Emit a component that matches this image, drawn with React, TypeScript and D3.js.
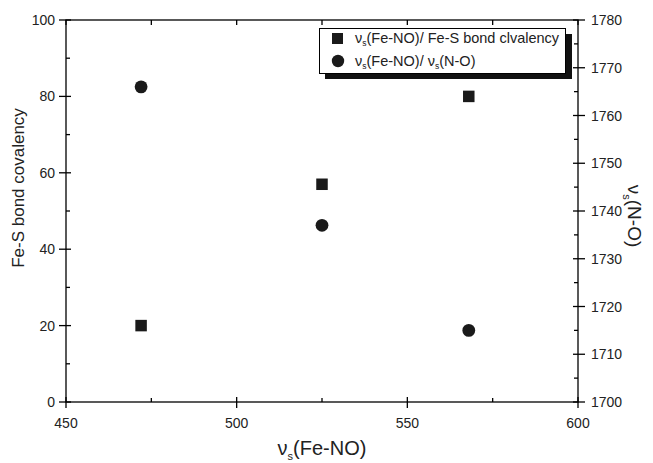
import React from "react";
import * as d3 from "d3";

const feNO = [472, 525, 568];
const covalency = [20, 57, 80];
const nuNO = [1766, 1737, 1715];
const xTicks = [450, 500, 550, 600];
const xMinor = [475, 525, 575];
const yLeftTicks = [0, 20, 40, 60, 80, 100];
const yLeftMinor = [10, 30, 50, 70, 90];
const yRightTicks = [1700, 1710, 1720, 1730, 1740, 1750, 1760, 1770, 1780];
const yRightMinor = [1705, 1715, 1725, 1735, 1745, 1755, 1765, 1775];

const W = 653, H = 463;
const L = 66, R = 578, T = 20, B = 402;
const font = "Liberation Sans, Arial, sans-serif";

export default function App() {
  const x = d3.scaleLinear().domain([450, 600]).range([L, R]);
  const yl = d3.scaleLinear().domain([0, 100]).range([B, T]);
  const yr = d3.scaleLinear().domain([1700, 1780]).range([B, T]);
  const sw = 1.3;
  const sq = 11.5;
  return (
    <svg width={W} height={H} style={{ position: "absolute", left: 0, top: 0, background: "#fff" }} fontFamily={font}>
      <rect x={0} y={0} width={W} height={H} fill="#fff" />
      {/* frame */}
      <rect x={L} y={T} width={R - L} height={B - T} fill="none" stroke="#000" strokeWidth={sw} />
      {/* bottom axis */}
      {xTicks.map((t) => (
        <g key={"xb" + t}>
          <line x1={x(t)} x2={x(t)} y1={B - 5} y2={B + 6} stroke="#000" strokeWidth={sw} />
          <text x={x(t)} y={B + 26} fontSize={14} textAnchor="middle" fill="#222">{t}</text>
        </g>
      ))}
      {xMinor.map((t) => (
        <line key={"xm" + t} x1={x(t)} x2={x(t)} y1={B} y2={B - 4} stroke="#000" strokeWidth={sw} />
      ))}
      {/* top axis ticks */}
      {[...xTicks, ...xMinor].map((t) => (
        <line key={"xt" + t} x1={x(t)} x2={x(t)} y1={T} y2={T + 5} stroke="#000" strokeWidth={sw} />
      ))}
      {/* left axis */}
      {yLeftTicks.map((t) => (
        <g key={"yl" + t}>
          <line x1={L - 7} x2={L + 5} y1={yl(t)} y2={yl(t)} stroke="#000" strokeWidth={sw} />
          <text x={L - 11} y={yl(t) + 5} fontSize={14} textAnchor="end" fill="#222">{t}</text>
        </g>
      ))}
      {yLeftMinor.map((t) => (
        <line key={"ylm" + t} x1={L} x2={L + 4} y1={yl(t)} y2={yl(t)} stroke="#000" strokeWidth={sw} />
      ))}
      {/* right axis */}
      {yRightTicks.map((t) => (
        <g key={"yr" + t}>
          <line x1={R - 5} x2={R + 7} y1={yr(t)} y2={yr(t)} stroke="#000" strokeWidth={sw} />
          <text x={R + 13} y={yr(t) + 5} fontSize={14} textAnchor="start" fill="#222">{t}</text>
        </g>
      ))}
      {yRightMinor.map((t) => (
        <line key={"yrm" + t} x1={R} x2={R - 4} y1={yr(t)} y2={yr(t)} stroke="#000" strokeWidth={sw} />
      ))}
      {/* axis titles */}
      <text x={(L + R) / 2} y={455} fontSize={20} textAnchor="middle" fill="#222">
        ν<tspan fontSize={11} dy={5}>s</tspan><tspan dy={-5}>(Fe-NO)</tspan>
      </text>
      <text transform={`translate(24,188) rotate(-90)`} fontSize={17} textAnchor="middle" fill="#222">
        Fe-S bond covalency
      </text>
      <text transform={`translate(628,216) rotate(90)`} fontSize={19} textAnchor="middle" fill="#222">
        ν<tspan fontSize={11} dy={5}>s</tspan><tspan dy={-5}>(N-O)</tspan>
      </text>
      {/* data */}
      {feNO.map((v, i) => (
        <rect key={"s" + i} x={x(v) - sq / 2} y={yl(covalency[i]) - sq / 2} width={sq} height={sq} fill="#1a1a1a" />
      ))}
      {feNO.map((v, i) => (
        <circle key={"c" + i} cx={x(v)} cy={yr(nuNO[i])} r={6.4} fill="#1a1a1a" />
      ))}
      {/* legend */}
      <rect x={325} y={34} width={247} height={45} fill="#111" />
      <rect x={319.5} y={28.5} width={246} height={45} fill="#fff" stroke="#000" strokeWidth={1} />
      <rect x={332} y={33} width={11} height={11} fill="#1a1a1a" />
      <text x={355} y={43} fontSize={14.5} fill="#222">
        ν<tspan fontSize={8.5} dy={3}>s</tspan><tspan dy={-3}>(Fe-NO)/ Fe-S bond clvalency</tspan>
      </text>
      <circle cx={338} cy={61} r={6.2} fill="#1a1a1a" />
      <text x={355} y={66} fontSize={14.5} fill="#222">
        ν<tspan fontSize={8.5} dy={3}>s</tspan><tspan dy={-3}>(Fe-NO)/ ν</tspan><tspan fontSize={8.5} dy={3}>s</tspan><tspan dy={-3}>(N-O)</tspan>
      </text>
    </svg>
  );
}
